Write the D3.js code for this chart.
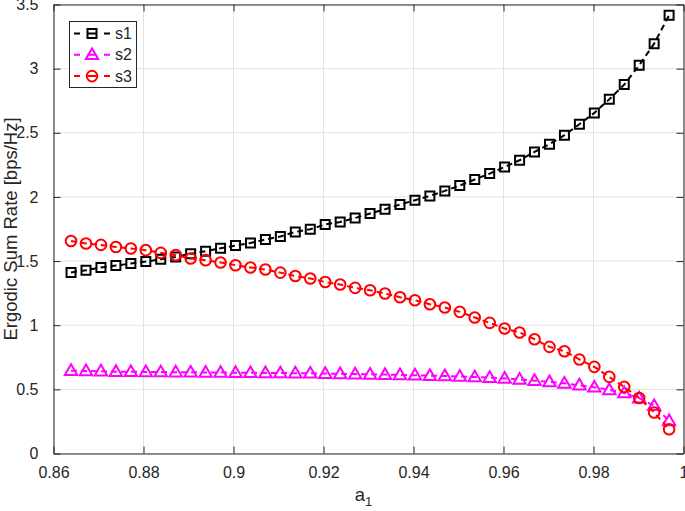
<!DOCTYPE html>
<html>
<head>
<meta charset="utf-8">
<script src="https://cdn.jsdelivr.net/npm/d3@7"></script>
<style>
  html, body { margin: 0; padding: 0; background: #fff; }
  svg { display: block; }
  text { font-family: "Liberation Sans", Arial, Helvetica, sans-serif; }
</style>
</head>
<body>
<svg id="chart" width="685" height="511"></svg>
<script>
// ---- data ----
const a1Start = 0.8639, a1End = 0.9968, nPts = 41;
const a1 = d3.range(nPts).map(i => a1Start + (a1End - a1Start) * i / (nPts - 1));

const s1 = [1.411, 1.429, 1.450, 1.465, 1.481, 1.496, 1.514, 1.532, 1.557, 1.577,
            1.600, 1.621, 1.641, 1.668, 1.692, 1.727, 1.748, 1.785, 1.805, 1.836,
            1.871, 1.904, 1.941, 1.974, 2.008, 2.047, 2.089, 2.136, 2.182, 2.234,
            2.286, 2.351, 2.411, 2.481, 2.567, 2.655, 2.761, 2.876, 3.026, 3.195,
            3.416];
const s2 = [0.645, 0.643, 0.641, 0.638, 0.637, 0.636, 0.635, 0.634, 0.633, 0.632,
            0.631, 0.630, 0.629, 0.628, 0.627, 0.626, 0.625, 0.623, 0.621, 0.619,
            0.617, 0.615, 0.613, 0.610, 0.607, 0.604, 0.600, 0.596, 0.591, 0.585,
            0.578, 0.568, 0.558, 0.547, 0.532, 0.516, 0.496, 0.472, 0.431, 0.372,
            0.254];
const s3 = [1.657, 1.637, 1.626, 1.610, 1.598, 1.585, 1.564, 1.546, 1.520, 1.507,
            1.489, 1.468, 1.450, 1.434, 1.410, 1.384, 1.364, 1.337, 1.317, 1.291,
            1.273, 1.247, 1.218, 1.195, 1.164, 1.138, 1.104, 1.060, 1.018, 0.974,
            0.943, 0.891, 0.831, 0.797, 0.733, 0.675, 0.597, 0.519, 0.433, 0.320,
            0.189];

const seriesNames = ["s1", "s2", "s3"];
const seriesColors = ["#000000", "#ff00ff", "#ff0000"];
const seriesMarkers = ["square", "triangle", "circle"];
const xTicks = [0.86, 0.88, 0.9, 0.92, 0.94, 0.96, 0.98, 1];
const yTicks = [0, 0.5, 1, 1.5, 2, 2.5, 3, 3.5];
const xLabelMain = "a", xLabelSub = "1";
const yLabel = "Ergodic Sum Rate [bps/Hz]";

// ---- layout ----
const W = 685, H = 511;
const m = { left: 53.5, right: 1.5, top: 4.5, bottom: 57.5 };
const svg = d3.select("#chart");
const x = d3.scaleLinear().domain([0.86, 1]).range([m.left, W - m.right]);
const y = d3.scaleLinear().domain([0, 3.5]).range([H - m.bottom, m.top]);
const axisColor = "#262626";
const fs = 16;
const lfs = 18.5;

// grid
const grid = svg.append("g");
grid.selectAll("line.gx").data(xTicks).enter().append("line")
  .attr("x1", d => x(d)).attr("x2", d => x(d))
  .attr("y1", y(0)).attr("y2", y(3.5))
  .attr("stroke", "#e3e3e3").attr("stroke-width", 1);
grid.selectAll("line.gy").data(yTicks).enter().append("line")
  .attr("y1", d => y(d)).attr("y2", d => y(d))
  .attr("x1", x(0.86)).attr("x2", x(1))
  .attr("stroke", "#e3e3e3").attr("stroke-width", 1);

// axes (ticks inward)
function styleAxis(g) {
  g.select(".domain").attr("stroke", axisColor).attr("stroke-width", 1);
  g.selectAll(".tick line").attr("stroke", axisColor).attr("stroke-width", 1);
  g.selectAll(".tick text").attr("fill", axisColor).attr("font-size", fs);
}
const xAxis = svg.append("g").attr("transform", `translate(0,${y(0)})`)
  .call(d3.axisBottom(x).tickValues(xTicks).tickFormat(d3.format("~g")).tickSizeInner(-7).tickSizeOuter(0).tickPadding(13));
styleAxis(xAxis);
xAxis.selectAll(".tick text").attr("dy", "0.71em");
const xAxisTop = svg.append("g").attr("transform", `translate(0,${y(3.5)})`)
  .call(d3.axisTop(x).tickValues(xTicks).tickFormat("").tickSizeInner(-7).tickSizeOuter(0));
styleAxis(xAxisTop);
const yAxis = svg.append("g").attr("transform", `translate(${x(0.86)},0)`)
  .call(d3.axisLeft(y).tickValues(yTicks).tickFormat(d3.format("~g")).tickSizeInner(-7).tickSizeOuter(0).tickPadding(15));
styleAxis(yAxis);
const yAxisRight = svg.append("g").attr("transform", `translate(${x(1)},0)`)
  .call(d3.axisRight(y).tickValues(yTicks).tickFormat("").tickSizeInner(-7).tickSizeOuter(0));
styleAxis(yAxisRight);

// labels
const xl = svg.append("text").attr("x", x(0.93) - 5).attr("y", 501)
  .attr("font-size", lfs).attr("fill", axisColor).attr("text-anchor", "middle");
xl.append("tspan").text(xLabelMain);
xl.append("tspan").text(xLabelSub).attr("font-size", 13).attr("dy", 5);
svg.append("text")
  .attr("transform", `translate(16.5,${(y(0) + y(3.5)) / 2}) rotate(-90)`)
  .attr("text-anchor", "middle").attr("font-size", lfs).attr("fill", axisColor)
  .text(yLabel);

// markers
function markerPath(type) {
  if (type === "square") return "M-4.5,-4.5H4.5V4.5H-4.5Z";
  if (type === "triangle") return "M0,-6.4L6.2,4.3L-6.2,4.3Z";
  const r = 5.3;
  return `M${r},0A${r},${r} 0 1,1 ${-r},0A${r},${r} 0 1,1 ${r},0Z`;
}

const allSeries = [s1, s2, s3];
const line = d3.line().x((d, i) => x(a1[i])).y(d => y(d));
const plot = svg.append("g");
allSeries.forEach((vals, k) => {
  plot.append("path").datum(vals).attr("d", line)
    .attr("fill", "none").attr("stroke", seriesColors[k]).attr("stroke-width", 2)
    .attr("stroke-dasharray", "6,4");
  const mp = markerPath(seriesMarkers[k]);
  plot.selectAll(null).data(vals).enter().append("path")
    .attr("d", mp)
    .attr("transform", (d, i) => `translate(${x(a1[i])},${y(d)})`)
    .attr("fill", "none").attr("stroke", seriesColors[k]).attr("stroke-width", 2);
});

// legend
const lg = svg.append("g");
lg.append("rect").attr("x", 69.5).attr("y", 21.5).attr("width", 67).attr("height", 66)
  .attr("fill", "#fff").attr("stroke", axisColor).attr("stroke-width", 1);
seriesNames.forEach((name, k) => {
  const yy = 33.5 + k * 21.3;
  lg.append("line").attr("x1", 74).attr("x2", 110).attr("y1", yy).attr("y2", yy)
    .attr("stroke", seriesColors[k]).attr("stroke-width", 2).attr("stroke-dasharray", "6,7.5,9,7.5,6");
  lg.append("path").attr("d", markerPath(seriesMarkers[k])).attr("transform", `translate(92,${yy})`)
    .attr("fill", "none").attr("stroke", seriesColors[k]).attr("stroke-width", 2);
  lg.append("text").attr("x", 115).attr("y", yy).attr("dy", "0.35em")
    .attr("font-size", fs).attr("fill", axisColor).text(name);
});
</script>
</body>
</html>
